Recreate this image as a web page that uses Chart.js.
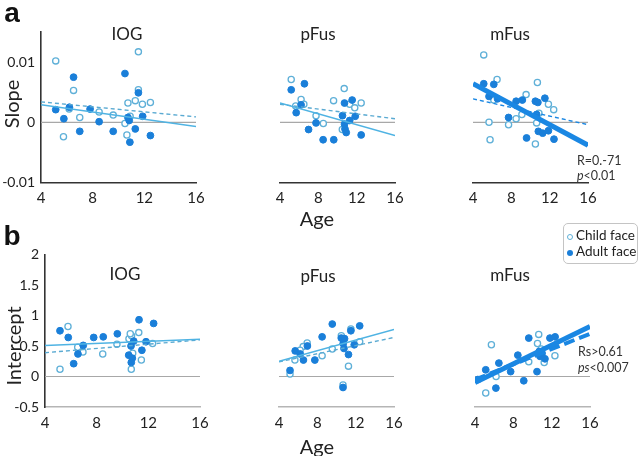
<!DOCTYPE html>
<html>
<head>
<meta charset="utf-8">
<script src="https://cdn.jsdelivr.net/npm/chart.js@4.4.1/dist/chart.umd.min.js"></script>
<style>
  html, body { margin: 0; padding: 0; background: #fff; }
  #fig { position: relative; width: 640px; height: 456px; overflow: hidden; font-family: Lato, 'Open Sans', sans-serif; color: #222; }
  #fig canvas { position: absolute; left: 0; top: 0; }
  .t { position: absolute; transform: translate(-50%, -50%); white-space: nowrap; }
  .l { position: absolute; transform: translateY(-50%); white-space: nowrap; }
  .legend { position: absolute; left: 563px; top: 223px; width: 73px; height: 39px; border: 1px solid #c4c4c4; border-radius: 5px; font-size: 13.5px; }
  .dot { position: absolute; width: 5px; height: 5px; border-radius: 50%; }
</style>
</head>
<body>
<div id="fig"></div>
<script>
// ages at which the fit lines start and end
const fitAges = [4, 16];
const ageTicks = [4, 8, 12, 16];
const slopeTicks = [-0.01, 0, 0.01];
const interceptTicks = [-0.5, 0, 0.5, 1, 1.5, 2];

// a: slope vs age  ([age, slope])
const iogSlopeChild = [[5.14,0.0102],[11.54,0.0117],[6.52,0.0053],[11.54,0.0054],[10.73,0.0032],[11.3,0.0036],[11.85,0.0030],[12.47,0.0033],[6.18,0.0022],[8.5,0.0017],[9.59,0.0012],[7.0,0.0008],[10.5,-0.0002],[10.9,0.001],[5.74,-0.0024],[10.65,-0.0021]];
const iogSlopeAdult = [[6.52,0.0075],[10.5,0.0081],[11.54,0.0049],[5.14,0.0021],[6.2,0.0025],[7.8,0.0022],[5.77,0.0006],[8.5,0.0001],[10.73,0.0008],[10.83,0.0003],[11.87,0.001],[7.0,-0.0015],[9.59,-0.0015],[11.3,-0.0011],[12.47,-0.0022],[10.88,-0.0033]];
const iogSlopeAdultFit = [0.0029, -0.0007];
const iogSlopeChildFit = [0.0034, 0.0009];

const pfusSlopeChild = [[5.17,0.0071],[10.7,0.0056],[6.2,0.0038],[6.49,0.0030],[5.64,0.0027],[9.59,0.0036],[11.27,0.0030],[11.8,0.0024],[12.47,0.0032],[7.76,0.0011],[8.52,-0.0002],[10.5,-0.0012]];
const pfusSlopeAdult = [[5.17,0.0054],[6.55,0.0064],[6.2,0.0029],[5.69,0.0016],[11.53,0.0037],[10.73,0.0032],[10.52,0.0011],[11.27,0.0003],[11.85,0.0010],[7.76,-0.0001],[10.73,-0.0003],[10.78,-0.0011],[10.91,-0.0017],[6.98,-0.0012],[8.5,-0.0029],[9.61,-0.0029],[12.47,-0.0021]];
const pfusSlopeAdultFit = [0.0032, -0.0022];
const pfusSlopeChildFit = [0.0030, 0.0006];

const mfusSlopeChild = [[5.12,0.0112],[6.51,0.0071],[6.17,0.0037],[9.54,0.0046],[10.72,0.0066],[11.87,0.0030],[12.42,0.0021],[8.5,0.0006],[9.1,0.0013],[7.71,-0.0004],[5.67,0.0],[10.64,-0.0001],[10.88,0.0015],[5.78,-0.0029],[10.51,-0.0036]];
const mfusSlopeAdult = [[5.12,0.0064],[6.17,0.0063],[5.67,0.0043],[6.56,0.0039],[8.5,0.0035],[9.15,0.0037],[10.51,0.0035],[10.77,0.0033],[11.5,0.0040],[7.71,0.0008],[10.64,0.0013],[10.82,-0.0015],[11.27,-0.0018],[11.87,-0.0014],[9.59,-0.0026],[12.45,-0.0028]];
const mfusSlopeAdultFit = [0.0064, -0.0038];
const mfusSlopeChildFit = [0.0039, -0.0004];

// b: intercept vs age  ([age, intercept])
const iogIntChild = [[5.16,0.12],[5.78,0.82],[6.53,0.48],[6.94,0.40],[8.47,0.37],[9.57,0.53],[10.5,0.62],[10.7,0.67],[11.26,0.72],[10.79,0.38],[11.46,0.27],[10.68,0.12],[12.33,0.54],[10.6,0.7]];
const iogIntAdult = [[5.16,0.75],[5.8,0.64],[7.77,0.64],[8.51,0.65],[9.6,0.70],[11.28,0.93],[12.41,0.87],[6.96,0.51],[6.55,0.37],[6.22,0.21],[10.87,0.58],[10.66,0.50],[11.82,0.57],[11.5,0.43],[10.48,0.35],[10.76,0.30],[10.68,0.23]];
const iogIntAdultFit = [0.51, 0.61];
const iogIntChildFit = [0.39, 0.60];

const pfusIntChild = [[6.94,0.55],[6.52,0.49],[6.2,0.43],[5.66,0.27],[8.5,0.34],[9.56,0.45],[10.5,0.67],[11.5,0.78],[12.42,0.57],[11.25,0.17],[5.15,0.04],[10.68,-0.14]];
const pfusIntAdult = [[9.56,0.86],[12.42,0.83],[11.5,0.75],[8.5,0.65],[10.5,0.63],[10.84,0.62],[10.7,0.54],[11.85,0.52],[10.78,0.46],[11.25,0.36],[5.69,0.42],[6.21,0.37],[6.96,0.50],[6.55,0.27],[7.74,0.27],[5.15,0.10],[10.68,-0.18]];
const pfusIntAdultFit = [0.25, 0.77];
const pfusIntChildFit = [0.24, 0.64];

const mfusIntChild = [[10.65,0.69],[5.71,0.52],[10.52,0.54],[9.61,0.24],[11.22,0.23],[12.34,0.34],[6.2,0.0],[5.12,-0.27],[10.9,0.45]];
const mfusIntAdult = [[9.61,0.63],[11.82,0.63],[12.36,0.65],[8.47,0.35],[10.7,0.41],[11.3,0.29],[10.78,0.33],[6.49,0.22],[7.72,0.08],[5.12,0.11],[10.47,0.08],[9.09,-0.07],[6.18,-0.19],[4.3,-0.05],[11.0,0.38]];
const mfusIntAdultFit = [-0.10, 0.82];
const mfusIntChildFit = [-0.05, 0.70];

const FONT = "Lato, 'Open Sans', sans-serif";
const fig = document.getElementById('fig');
const W = 640, H = 456;
const Y_AXIS_W = 40, X_AXIS_H = 24;

function pts(arr) {
  return arr.map(function (p) { return { x: p[0], y: p[1] }; });
}
function fitLine(ends) {
  return [{ x: fitAges[0], y: ends[0] }, { x: fitAges[1], y: ends[1] }];
}

function panel(cfg) {
  const canvas = document.createElement('canvas');
  canvas.width = W; canvas.height = H;
  canvas.style.width = W + 'px'; canvas.style.height = H + 'px';
  fig.appendChild(canvas);

  const thick = cfg.thick;
  const lineW = thick ? 5 : 1.5;
  const solidColor = thick ? '#1a87e3' : '#4fb3e3';
  const dashColor = thick ? '#1a87e3' : (cfg.dashGray ? '#7fb0c9' : '#5aaad2');

  new Chart(canvas.getContext('2d'), {
    type: 'scatter',
    data: {
      datasets: [
        { data: fitLine(cfg.adultFit), showLine: true, pointRadius: 0, borderColor: solidColor, borderWidth: lineW, order: 1 },
        { data: fitLine(cfg.childFit), showLine: true, pointRadius: 0, borderColor: dashColor, borderWidth: cfg.dashThick ? 4 : 1.4, borderDash: cfg.dashThick ? [11, 5] : [4, 3], order: 2 },
        { data: pts(cfg.adult), pointRadius: 3.4, backgroundColor: '#1a7fd9', borderColor: '#1a7fd9', borderWidth: 1, order: 3 },
        { data: pts(cfg.child), pointRadius: 3.1, backgroundColor: '#ffffff', borderColor: '#5fb0d8', borderWidth: 1.3, order: 4 },
        { data: fitLine([0, 0]), showLine: true, pointRadius: 0, borderColor: '#a8a8a8', borderWidth: 1.2, order: 5 },
      ],
    },
    options: {
      responsive: false,
      animation: false,
      events: [],
      layout: {
        padding: {
          left: cfg.left - (cfg.yAxis ? Y_AXIS_W : 0),
          right: W - cfg.right,
          top: cfg.top,
          bottom: H - cfg.bottom - X_AXIS_H,
        },
      },
      plugins: { legend: { display: false }, tooltip: { enabled: false } },
      scales: {
        x: {
          type: 'linear',
          min: 4,
          max: 16,
          afterBuildTicks: function (s) { s.ticks = ageTicks.map(function (v) { return { value: v }; }); },
          afterFit: function (s) { s.height = X_AXIS_H; },
          grid: { display: false, drawTicks: false },
          border: { display: true, color: cfg.xAxisColor, width: 1.6 },
          ticks: { padding: 7, color: '#222', font: { family: FONT, size: 15 }, maxRotation: 0 },
        },
        y: {
          type: 'linear',
          display: cfg.yAxis,
          min: cfg.yMin,
          max: cfg.yMax,
          afterBuildTicks: function (s) { s.ticks = cfg.yTicks.map(function (v) { return { value: v }; }); },
          afterFit: function (s) { s.width = Y_AXIS_W; },
          grid: { display: false, drawTicks: false },
          border: { display: true, color: '#333', width: 1.6 },
          ticks: {
            padding: 6,
            color: '#222',
            font: { family: FONT, size: 14 },
            callback: function (v) { return String(v); },
          },
        },
      },
    },
  });
}

function text(str, x, y, style, cls) {
  const d = document.createElement('div');
  d.className = cls || 't';
  d.style.left = x + 'px';
  d.style.top = y + 'px';
  d.innerHTML = str;
  if (style) d.style.cssText += style;
  fig.appendChild(d);
  return d;
}

// row a: slope
const topA = 32, botA = 182.5;
panel({ left: 41, right: 196, top: topA, bottom: botA, yAxis: true, yMin: -0.01, yMax: 0.015, yTicks: slopeTicks, xAxisColor: '#333',
  child: iogSlopeChild, adult: iogSlopeAdult, childFit: iogSlopeChildFit, adultFit: iogSlopeAdultFit });
panel({ left: 240, right: 395, top: topA, bottom: botA, yAxis: false, yMin: -0.01, yMax: 0.015, yTicks: slopeTicks, xAxisColor: '#333',
  child: pfusSlopeChild, adult: pfusSlopeAdult, childFit: pfusSlopeChildFit, adultFit: pfusSlopeAdultFit });
panel({ left: 433, right: 588, top: topA, bottom: botA, yAxis: false, yMin: -0.01, yMax: 0.015, yTicks: slopeTicks, xAxisColor: '#333',
  child: mfusSlopeChild, adult: mfusSlopeAdult, childFit: mfusSlopeChildFit, adultFit: mfusSlopeAdultFit, thick: true, dashGray: true });

// row b: intercept
const topB = 254.5, botB = 407;
panel({ left: 45, right: 200, top: topB, bottom: botB, yAxis: true, yMin: -0.5, yMax: 2, yTicks: interceptTicks, xAxisColor: '#b5b5b5',
  child: iogIntChild, adult: iogIntAdult, childFit: iogIntChildFit, adultFit: iogIntAdultFit });
panel({ left: 239, right: 394, top: topB, bottom: botB, yAxis: false, yMin: -0.5, yMax: 2, yTicks: interceptTicks, xAxisColor: '#b5b5b5',
  child: pfusIntChild, adult: pfusIntAdult, childFit: pfusIntChildFit, adultFit: pfusIntAdultFit });
panel({ left: 435, right: 590, top: topB, bottom: botB, yAxis: false, yMin: -0.5, yMax: 2, yTicks: interceptTicks, xAxisColor: '#b5b5b5',
  child: mfusIntChild, adult: mfusIntAdult, childFit: mfusIntChildFit, adultFit: mfusIntAdultFit, thick: true, dashThick: true });

// labels
text('a', 12, 13, 'font-weight:bold;font-size:28px;font-family:Arial,"Liberation Sans",sans-serif;color:#111;');
text('b', 12, 236, 'font-weight:bold;font-size:28px;font-family:Arial,"Liberation Sans",sans-serif;color:#111;');
text('Slope', 11, 104, 'font-size:20px;transform:translate(-50%,-50%) rotate(-90deg);');
text('Intercept', 13, 346, 'font-size:20px;transform:translate(-50%,-50%) rotate(-90deg);');
text('Age', 317, 218, 'font-size:20px;');
text('Age', 317, 446, 'font-size:20px;');

text('IOG', 127, 33, 'font-size:17px;');
text('pFus', 318, 33, 'font-size:17px;');
text('mFus', 510, 33, 'font-size:17px;');
text('IOG', 125, 273, 'font-size:17px;');
text('pFus', 318, 275, 'font-size:17px;');
text('mFus', 510, 274, 'font-size:17px;');

text('R=0.-71', 577, 160, 'font-size:12.5px;color:#333;', 'l');
text('<i>p</i>&lt;0.01', 577, 175, 'font-size:12.5px;color:#333;', 'l');
text('Rs&gt;0.61', 578, 351, 'font-size:12.5px;color:#333;', 'l');
text('<i>ps</i>&lt;0.007', 578, 367, 'font-size:12.5px;color:#333;', 'l');

// legend
const lg = document.createElement('div');
lg.className = 'legend';
lg.innerHTML =
  '<div class="dot" style="left:3px;top:10px;border:1.2px solid #5fb0d8;background:#fff;width:4px;height:4px;"></div>' +
  '<div style="position:absolute;left:12px;top:3px;">Child face</div>' +
  '<div class="dot" style="left:3px;top:26px;background:#1a7fd9;width:6px;height:6px;"></div>' +
  '<div style="position:absolute;left:12px;top:19px;">Adult face</div>';
fig.appendChild(lg);
</script>
</body>
</html>
